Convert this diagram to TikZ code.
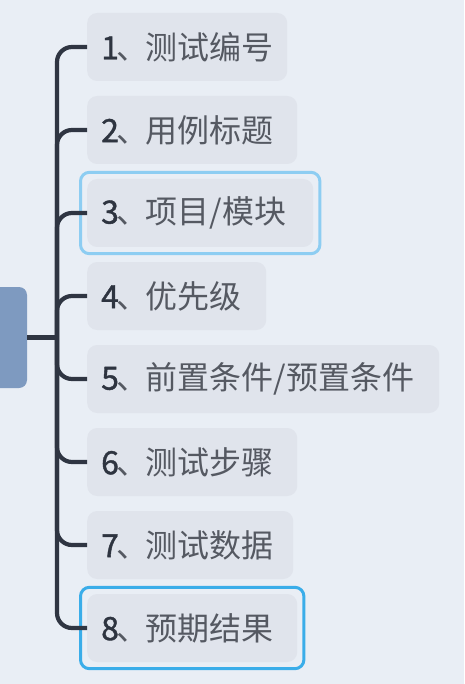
\documentclass[tikz,border=0pt]{standalone}
\usepackage{fontspec}
\newfontfamily\cjk{Noto Sans CJK SC}
\newfontfamily\numf[FakeBold=1.2]{Noto Sans CJK SC}
\usetikzlibrary{fit}
\definecolor{bgc}{HTML}{E9EEF5}
\definecolor{boxc}{HTML}{E0E4EC}
\definecolor{rootc}{HTML}{7E9AC0}
\definecolor{linec}{HTML}{2F3542}
\definecolor{numc}{HTML}{2E3440}
\definecolor{txtc}{HTML}{555962}
\definecolor{hlA}{HTML}{8DCDF2}
\definecolor{hlB}{HTML}{3AADE9}
\tikzset{
  item/.style={fill=boxc, rounded corners=10pt, anchor=west, minimum height=68pt,
    inner xsep=14pt, inner ysep=0pt, align=left, font=\cjk\fontsize{32}{36}\selectfont, text=txtc},
  conn/.style={draw=linec, line width=4.2pt, rounded corners=15pt},
  hl/.style={draw=#1, line width=3pt, rounded corners=9pt, inner sep=6.5pt}
}
\newcommand{\nm}[2]{\mbox{\textcolor{numc}{\numf #1}\hspace{-2pt}、\hspace{-3pt}#2}}
\begin{document}
\begin{tikzpicture}[x=1pt,y=-1pt]
\useasboundingbox (0,0) rectangle (464,684);
\clip (0,0) rectangle (464,684);
\fill[bgc] (0,0) rectangle (464,684);
\node[fill=rootc, rounded corners=8pt, minimum width=48pt, minimum height=101pt, inner sep=0pt] (root) at (3,337.5) {};
\coordinate (j) at (57,337.5);
\node[item, text width=172pt] (b1) at (87,47) {\nm{1}{测试编号}};
\node[item, text width=182pt] (b2) at (87,130) {\nm{2}{用例标题}};
\node[item, text width=198pt] (b3) at (87,213) {\nm{3}{项目/模块}};
\node[item, text width=151pt] (b4) at (87,296) {\nm{4}{优先级}};
\node[item, text width=324pt] (b5) at (87,379) {\nm{5}{前置条件/预置条件}};
\node[item, text width=182pt] (b6) at (87,462) {\nm{6}{测试步骤}};
\node[item, text width=178pt] (b7) at (87,545) {\nm{7}{测试数据}};
\node[item, text width=182pt] (b8) at (87,628) {\nm{8}{预期结果}};
\node[hl=hlA, fit=(b3)] (h3) {};
\node[hl=hlB, fit=(b8)] (h8) {};
\draw[conn, rounded corners=0pt] (root.east) -- (j);
\foreach \b in {b1,b2,b3,b4,b5,b6,b7,b8}{
  \draw[conn] (j) |- (\b.west);
}
\end{tikzpicture}
\end{document}
